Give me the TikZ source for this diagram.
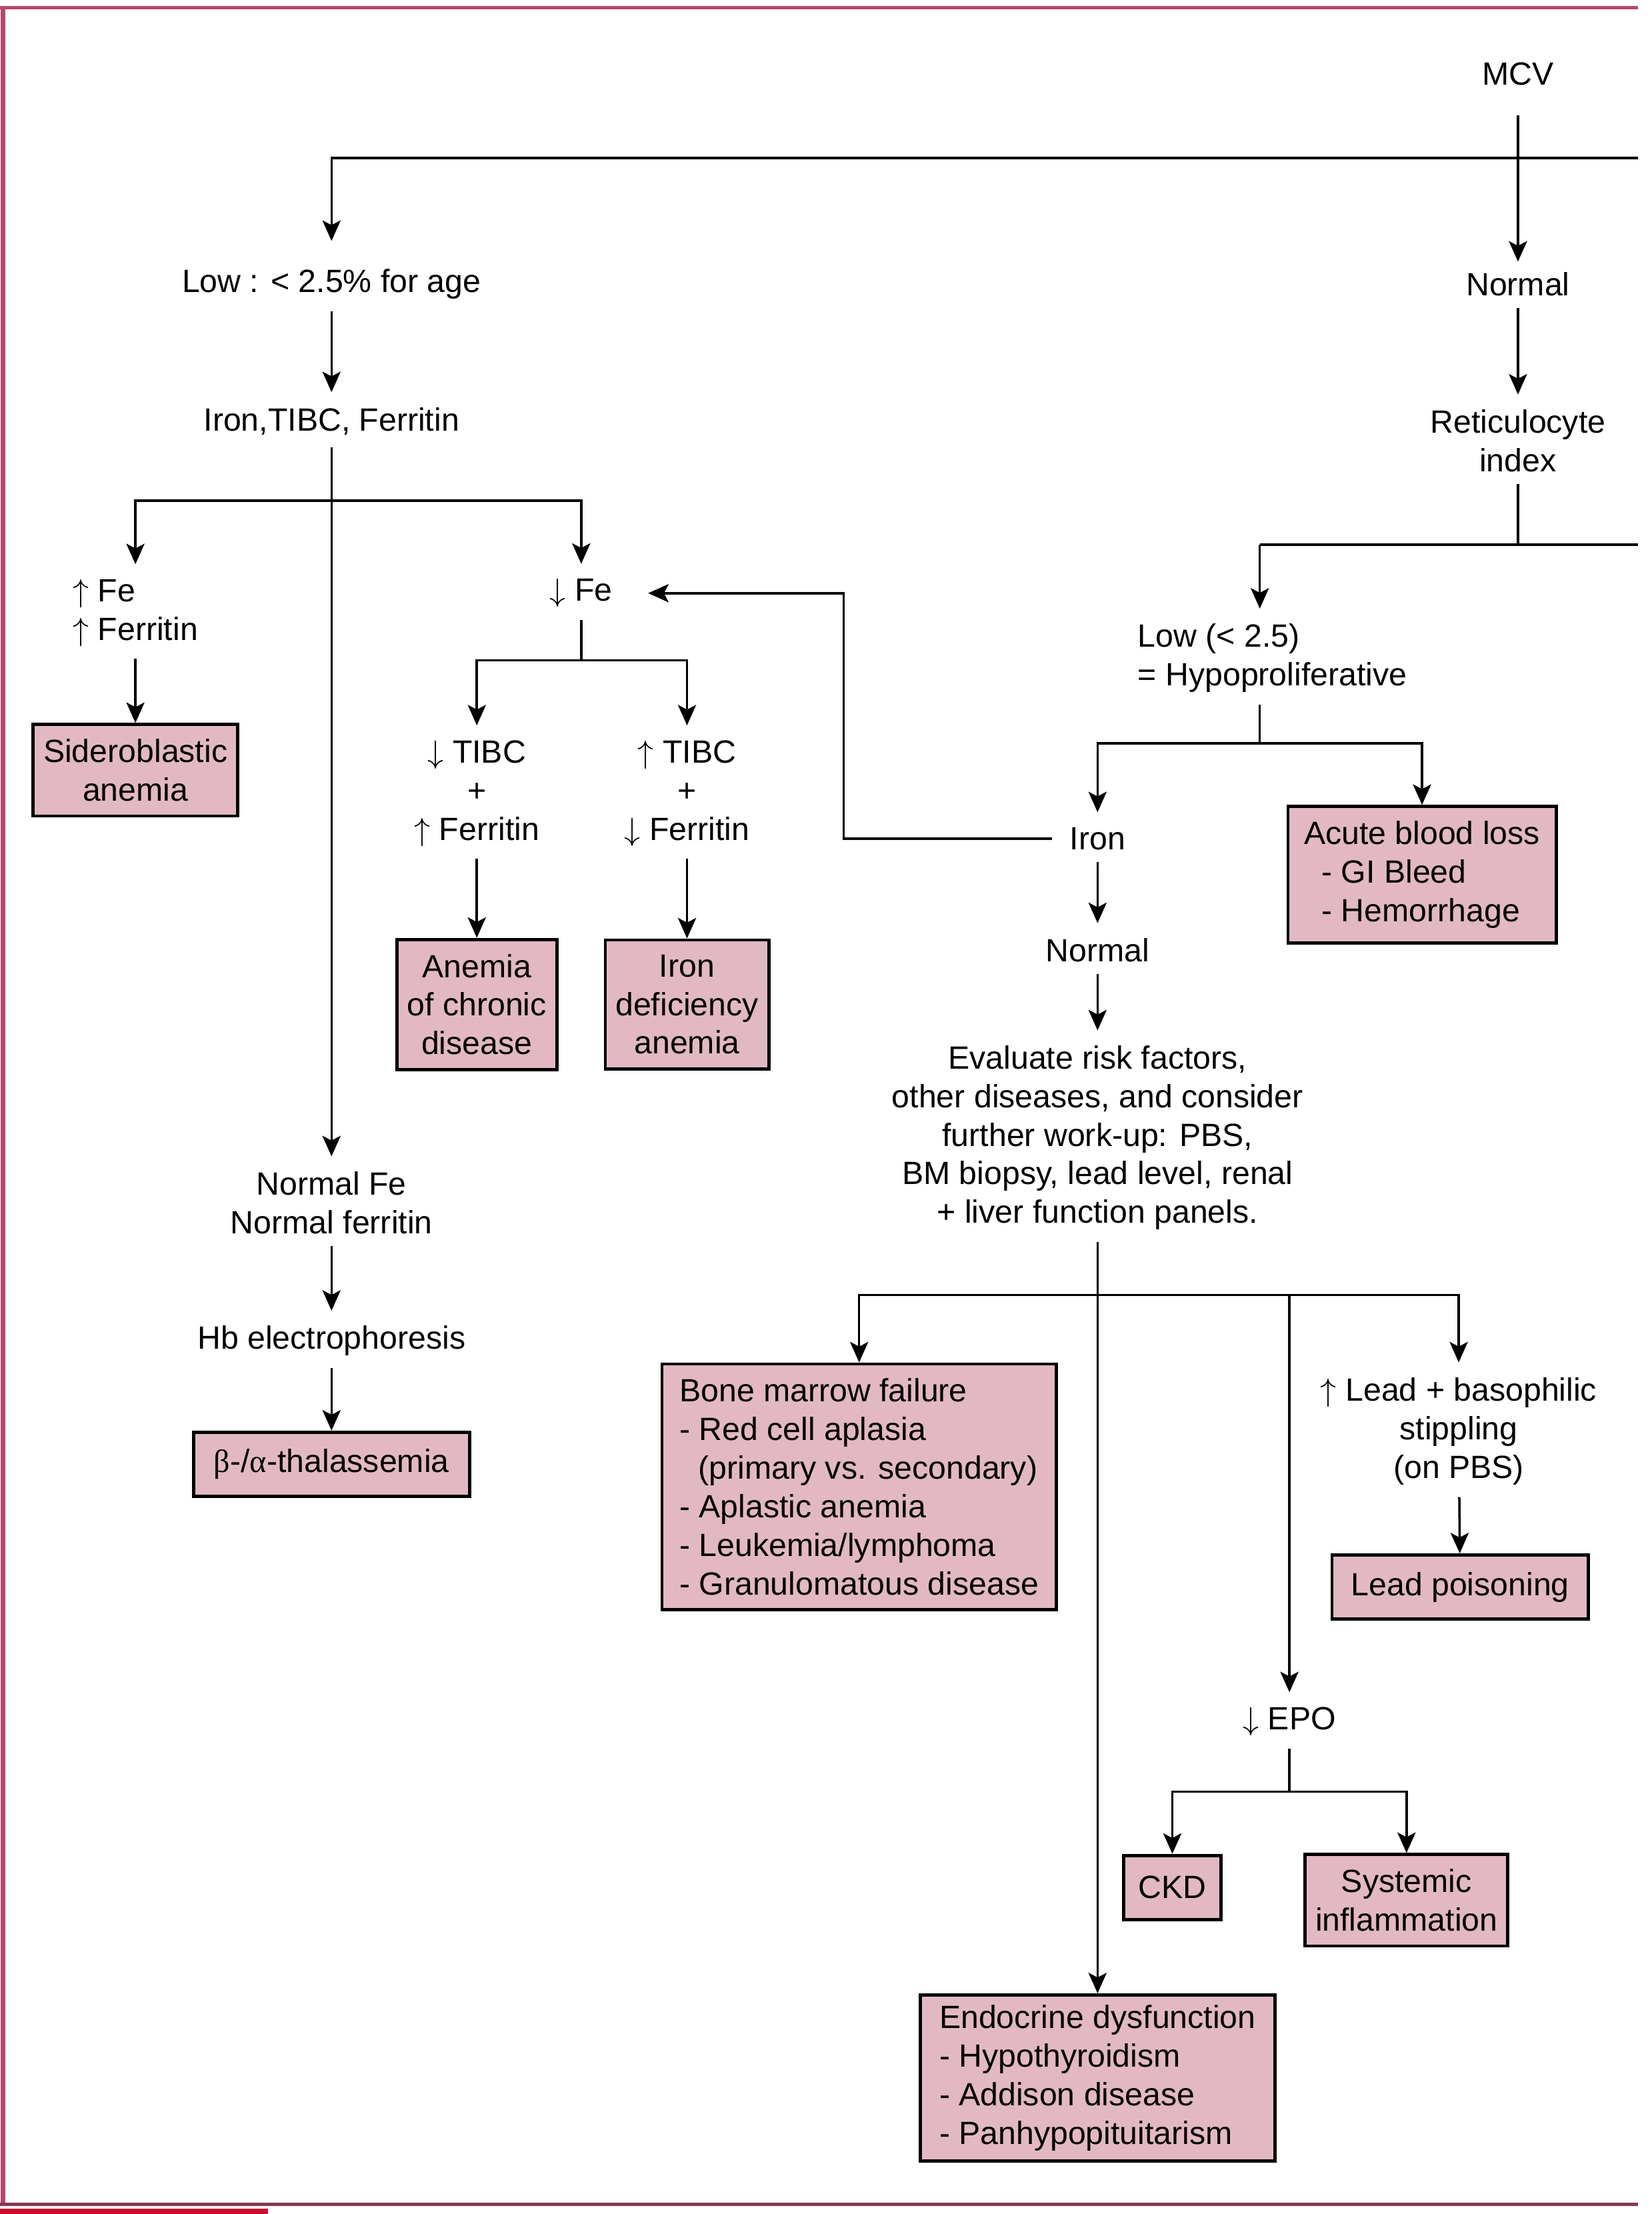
\documentclass[tikz,border=0pt]{standalone}
\usepackage{fontspec}
\setmainfont{Liberation Sans}
\newfontfamily\grkfont{Liberation Serif}
\usepackage{tikz}
\usetikzlibrary{arrows.meta}
\definecolor{dxpink}{HTML}{E2B9C3}
\definecolor{rimred}{HTML}{B5486F}
\definecolor{footred}{HTML}{C8102E}
\tikzset{>={Stealth[length=7pt,width=6.2pt,inset=1.6pt]}}
\newcommand{\upa}{$\uparrow$}
\newcommand{\dna}{$\downarrow$}
\tikzset{%
    txtbase/.style={align=center, font=\fontsize{11}{13.2}\selectfont},
    lbl/.style={txtbase, inner sep=1pt, yshift=-1.2pt},
    dx/.style={txtbase, draw, fill=dxpink, line width=1.1pt, inner xsep=3.5pt, inner ysep=5pt},
    dxl/.style={dx, align=left, inner xsep=6pt},
    link/.style={line width=0.8pt},
    totxt/.style={link, ->, shorten >=4pt},
    tobox/.style={link, ->},
    fromtxt/.style={shorten <=3pt}
}

\begin{document}
\begin{tikzpicture}[x=0.4825pt,y=-0.4825pt]
  \useasboundingbox (0,0) rectangle (1171,1569.4);
  \draw[rimred, line width=1.2pt] (0,5.5) -- (1161,5.5);
  \draw[rimred, line width=1.6pt] (2,4.5) -- (2,1563);
  \draw[rimred!75!black, line width=1pt] (0,1562.5) -- (1161,1562.5);
  \fill[footred] (0,1565.5) rectangle (190,1569.4);

  \node[lbl] (mcv) at (1076,50) {MCV};
  \node[lbl] (nrm) at (1076,199) {Normal};
  \node[lbl] (retic) at (1076,310) {Reticulocyte\\index};
  \node[lbl] (lowage) at (235,199) {Low : < 2.5\% for age};
  \node[lbl] (ironpanel) at (235,296) {Iron,TIBC, Ferritin};
  \node[lbl, align=left] (fehi) at (96,432) {\upa\ Fe\\\upa\ Ferritin};
  \node[lbl] (felo) at (412,418) {\dna\ Fe};
  \node[lbl] (tibclo) at (338,560) {\dna\ TIBC\\+\\\upa\ Ferritin};
  \node[lbl] (tibchi) at (487,560) {\upa\ TIBC\\+\\\dna\ Ferritin};
  \node[lbl] (normfe) at (235,850) {Normal Fe\\Normal ferritin};
  \node[lbl] (hbe) at (235,948) {Hb electrophoresis};
  \node[lbl, align=left] (hypo) at (902,464) {Low (< 2.5)\\= Hypoproliferative};
  \node[lbl] (iron) at (778,592) {Iron};
  \node[lbl] (ironok) at (778,671) {Normal};
  \node[lbl] (evalrf) at (778,804) {Evaluate risk factors,\\other diseases, and consider\\further work-up: PBS,\\BM biopsy, lead level, renal\\+ liver function panels.};
  \node[lbl] (leadlbl) at (1034,1012) {\upa\ Lead + basophilic\\stippling\\(on PBS)};
  \node[lbl] (epo) at (914,1218) {\dna\ EPO};

  \node[dx] (sidero) at (96,546) {Sideroblastic\\anemia};
  \node[dx] (acd) at (338,712) {Anemia\\of chronic\\disease};
  \node[dx] (ida) at (487,712) {Iron\\deficiency\\anemia};
  \node[dx, inner xsep=7pt, minimum height=22pt] (thal) at (235,1038) {{\grkfont β}-/{\grkfont α}-thalassemia};
  \node[dxl, inner xsep=5.5pt] (acute) at (1008,620) {Acute blood loss\\\hspace{6pt}- GI Bleed\\\hspace{6pt}- Hemorrhage};
  \node[dxl] (bmf) at (609,1054) {Bone marrow failure\\- Red cell aplasia\\\hspace{6.5pt}(primary vs. secondary)\\- Aplastic anemia\\- Leukemia/lymphoma\\- Granulomatous disease};
  \node[dx, inner xsep=6.5pt, minimum height=22pt] (leadpb) at (1035,1125) {Lead poisoning};
  \node[dx, inner xsep=5pt, minimum height=22pt] (ckd) at (831,1338) {CKD};
  \node[dx] (sysinf) at (997,1347) {Systemic\\inflammation};
  \node[dxl, inner xsep=6.5pt, inner ysep=3.5pt] (endo) at (778,1473) {Endocrine dysfunction\\- Hypothyroidism\\- Addison disease\\- Panhypopituitarism};

  \coordinate (mcvend) at (1161,112);
  \coordinate (ri) at (1076,386);
  \coordinate (riend) at (1161,386);
  \coordinate (rj) at (893,386);
  \coordinate (hj) at (893,527);
  \coordinate (fej) at (235,355);
  \coordinate (felj) at (412,468);
  \coordinate (jog) at (598,505);
  \coordinate (ej) at (778,918);
  \coordinate (epj) at (914,1270);

  \draw[totxt, shorten <=9pt, shorten >=2.5pt] (mcv) -- (nrm);
  \draw[totxt, shorten >=8.5pt] (mcvend) -| (lowage);
  \draw[totxt, fromtxt] (nrm) -- (retic);
  \draw[link, fromtxt] (retic) -- (ri);
  \draw[link] (riend) -- (rj);
  \draw[totxt] (rj) -- (rj |- hypo.north);
  \draw[totxt, fromtxt] (lowage) -- (ironpanel);
  \draw[totxt, fromtxt] (ironpanel) -- (normfe);
  \draw[totxt] (fej) -| (fehi);
  \draw[totxt] (fej) -| (felo);
  \draw[tobox, fromtxt] (fehi) -- (sidero);
  \draw[link, fromtxt] (felo) -- (felj);
  \draw[totxt] (felj) -| (tibclo);
  \draw[totxt] (felj) -| (tibchi);
  \draw[tobox, fromtxt] (tibclo) -- (acd);
  \draw[tobox, fromtxt] (tibchi) -- (ida);
  \draw[totxt, fromtxt] (normfe) -- (hbe);
  \draw[tobox, fromtxt] (hbe) -- (thal);
  \draw[link, fromtxt] (hj |- hypo.south) -- (hj);
  \draw[totxt] (hj) -| (iron);
  \draw[tobox] (hj) -| (acute);
  \draw[totxt, shorten <=5pt, shorten >=11pt] (iron) -| (jog) |- (felo);
  \draw[totxt, fromtxt] (iron) -- (ironok);
  \draw[totxt, fromtxt] (ironok) -- (evalrf);
  \draw[tobox, fromtxt] (evalrf) -- (endo);
  \draw[tobox] (ej) -| (bmf);
  \draw[totxt] (ej) -| (leadlbl);
  \draw[totxt] (ej) -| (epo);
  \draw[tobox, fromtxt] (leadlbl) -- (leadpb);
  \draw[link, fromtxt] (epo) -- (epj);
  \draw[tobox] (epj) -| (ckd);
  \draw[tobox] (epj) -| (sysinf);
\end{tikzpicture}
\end{document}
